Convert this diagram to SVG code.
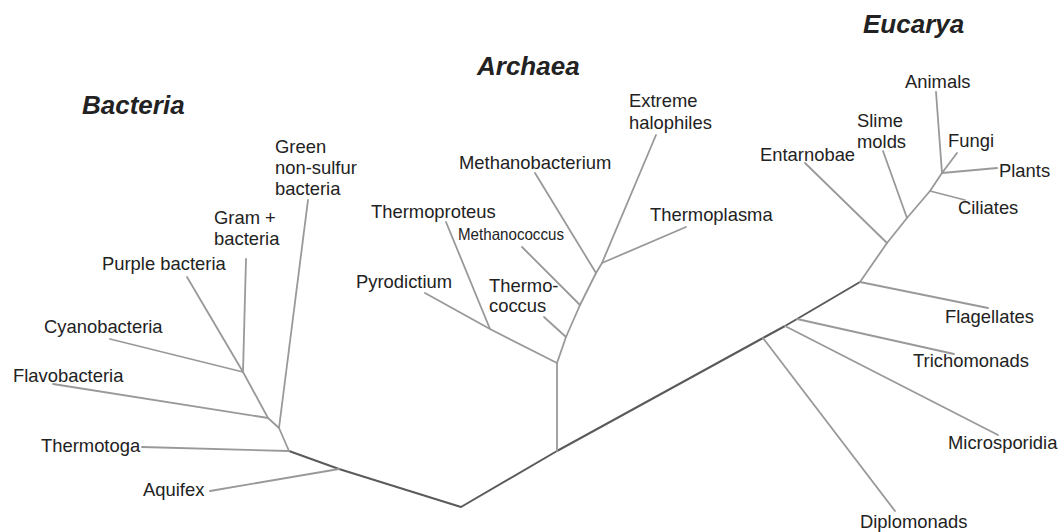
<svg xmlns="http://www.w3.org/2000/svg" width="1060" height="532" viewBox="0 0 1060 532">
<style>
.t{font-family:"Liberation Sans",Arial,sans-serif;font-size:18.4px;fill:#222}
.h{font-family:"Liberation Sans",Arial,sans-serif;font-size:26px;font-weight:bold;font-style:italic;fill:#222}
.b{stroke:#999;stroke-width:1.8;fill:none;stroke-linecap:round;stroke-linejoin:round}
.k{stroke:#5a5a5a;stroke-width:2;fill:none;stroke-linecap:round;stroke-linejoin:round}
</style>
<rect width="1060" height="532" fill="#fff"/>
<g id="connectors">
  <polyline class="k" points="289,451 339,469 461,507 557,451 763,338 785,326 797,319 860,282"/>
  <line class="b" x1="339" y1="469" x2="210" y2="491"/>
  <line class="b" x1="289" y1="451" x2="142" y2="447"/>
  <polyline class="b" points="289,451 279,428 268,418 243,372"/>
  <line class="b" x1="268" y1="418" x2="53" y2="384"/>
  <line class="b" x1="243" y1="372" x2="110" y2="339"/>
  <line class="b" x1="243" y1="372" x2="246" y2="259"/>
  <line class="b" x1="243" y1="372" x2="187" y2="277"/>
  <line class="b" x1="279" y1="428" x2="308" y2="200"/>
  <line class="b" x1="557" y1="451" x2="557" y2="363"/>
  <polyline class="b" points="557,363 490,329 425,293"/>
  <line class="b" x1="490" y1="329" x2="446" y2="222"/>
  <polyline class="b" points="557,363 566,337 580,305 596,273 602,263 656,135"/>
  <line class="b" x1="566" y1="337" x2="544" y2="317"/>
  <line class="b" x1="580" y1="305" x2="522" y2="247"/>
  <line class="b" x1="596" y1="273" x2="535" y2="173"/>
  <line class="b" x1="602" y1="263" x2="686" y2="227"/>
  <polyline class="b" points="860,282 887,243 907,218 930,191 942,173"/>
  <line class="b" x1="887" y1="243" x2="805" y2="163"/>
  <line class="b" x1="907" y1="218" x2="883" y2="151"/>
  <line class="b" x1="930" y1="191" x2="965" y2="200"/>
  <line class="b" x1="942" y1="173" x2="997" y2="168"/>
  <line class="b" x1="942" y1="173" x2="957" y2="153"/>
  <line class="b" x1="942" y1="173" x2="936" y2="92"/>
  <line class="b" x1="860" y1="282" x2="988" y2="308"/>
  <line class="b" x1="797" y1="319" x2="954" y2="354"/>
  <line class="b" x1="785" y1="326" x2="998" y2="435"/>
  <line class="b" x1="763" y1="338" x2="895" y2="511"/>
</g>
<g id="domain-bacteria"><text class="h" x="82" y="114">Bacteria</text></g>
<g id="domain-archaea"><text class="h" x="477" y="75">Archaea</text></g>
<g id="domain-eucarya"><text class="h" x="863" y="33">Eucarya</text></g>
<g id="green-non-sulfur"><text class="t" x="275" y="153">Green<tspan x="275" y="174">non-sulfur</tspan><tspan x="275" y="195">bacteria</tspan></text></g>
<g id="gram-plus"><text class="t" x="214" y="224">Gram +<tspan x="214" y="245">bacteria</tspan></text></g>
<g id="purple-bacteria"><text class="t" x="102" y="270">Purple bacteria</text></g>
<g id="cyanobacteria"><text class="t" x="44" y="333">Cyanobacteria</text></g>
<g id="flavobacteria"><text class="t" x="13" y="382">Flavobacteria</text></g>
<g id="thermotoga"><text class="t" x="41" y="452">Thermotoga</text></g>
<g id="aquifex"><text class="t" x="143" y="496">Aquifex</text></g>
<g id="extreme-halophiles"><text class="t" x="629" y="107">Extreme<tspan x="629" y="129">halophiles</tspan></text></g>
<g id="methanobacterium"><text class="t" x="459" y="169">Methanobacterium</text></g>
<g id="thermoproteus"><text class="t" x="371" y="218">Thermoproteus</text></g>
<g id="methanococcus"><text class="t" x="458" y="240" style="font-size:16.5px" textLength="106" lengthAdjust="spacingAndGlyphs">Methanococcus</text></g>
<g id="thermoplasma"><text class="t" x="650" y="221">Thermoplasma</text></g>
<g id="pyrodictium"><text class="t" x="356" y="288">Pyrodictium</text></g>
<g id="thermococcus"><text class="t" x="489" y="292">Thermo-<tspan x="489" y="312">coccus</tspan></text></g>
<g id="animals"><text class="t" x="905" y="88">Animals</text></g>
<g id="slime-molds"><text class="t" x="857" y="127">Slime<tspan x="857" y="148">molds</tspan></text></g>
<g id="entarnobae"><text class="t" x="760" y="161">Entarnobae</text></g>
<g id="fungi"><text class="t" x="948" y="147">Fungi</text></g>
<g id="plants"><text class="t" x="999" y="177">Plants</text></g>
<g id="ciliates"><text class="t" x="958" y="214">Ciliates</text></g>
<g id="flagellates"><text class="t" x="945" y="323">Flagellates</text></g>
<g id="trichomonads"><text class="t" x="913" y="367">Trichomonads</text></g>
<g id="microsporidia"><text class="t" x="948" y="449">Microsporidia</text></g>
<g id="diplomonads"><text class="t" x="860" y="528">Diplomonads</text></g>
</svg>
